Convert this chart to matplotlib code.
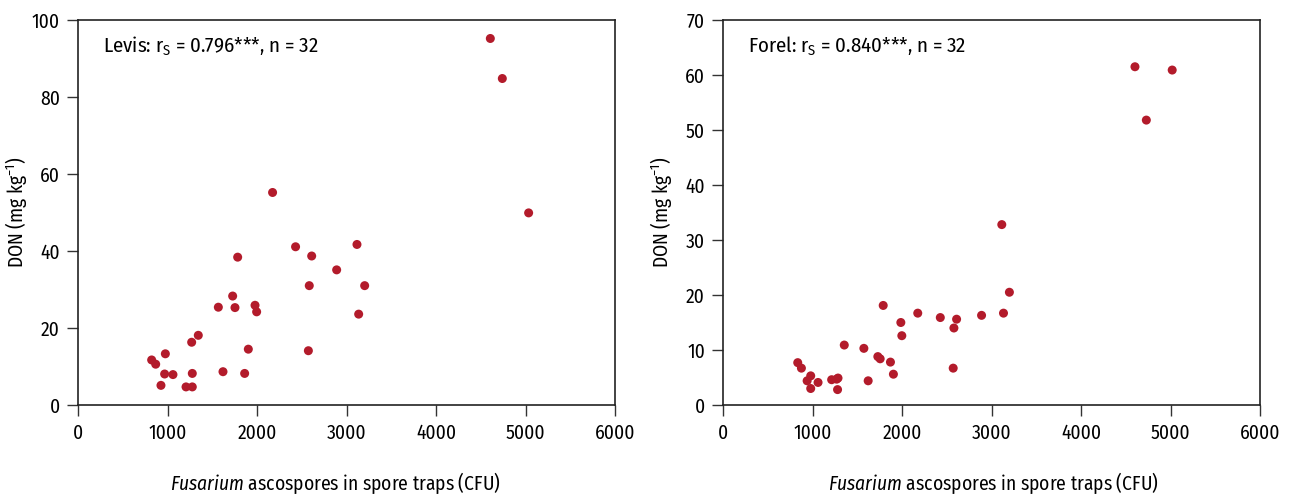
import matplotlib
matplotlib.use("Agg")
import matplotlib.pyplot as plt
from matplotlib import font_manager

names = {f.name for f in font_manager.fontManager.ttflist}
fam = "DejaVu Sans"
for cand in ["Fira Sans Condensed", "Open Sans Condensed", "IBM Plex Sans Condensed",
             "Barlow Semi Condensed", "Archivo Narrow"]:
    if cand in names:
        fam = cand
        break
plt.rcParams['font.family'] = [fam, 'DejaVu Sans']
plt.rcParams['mathtext.fontset'] = 'custom'
plt.rcParams['mathtext.rm'] = fam
plt.rcParams['mathtext.it'] = fam + ':italic'

# Levis data
x_levis = [823, 868, 927, 968, 976, 1061, 1207, 1270, 1277, 1277, 1344, 1568, 1620, 1728,
           1754, 1784, 1862, 1903, 1978, 1996, 2174, 2431, 2574, 2584, 2611, 2890, 3117,
           3136, 3203, 4607, 4741, 5035]
don_levis = [11.7, 10.6, 5.1, 8.05, 13.3, 7.9, 4.7, 16.3, 8.2, 4.7, 18.1, 25.4, 8.65, 28.3,
             25.3, 38.4, 8.2, 14.5, 25.9, 24.2, 55.2, 41.1, 14.1, 31.0, 38.7, 35.1, 41.7,
             23.6, 31.0, 95.2, 84.8, 49.9]

# Forel data
x_forel = [835, 876, 940, 980, 980, 1062, 1214, 1270, 1280, 1285, 1355, 1574, 1622, 1730,
           1756, 1790, 1871, 1904, 1987, 1998, 2176, 2428, 2572, 2580, 2610, 2889, 3115,
           3134, 3200, 4603, 4730, 5019]
don_forel = [7.7, 6.7, 4.4, 5.3, 3.0, 4.1, 4.6, 4.7, 2.8, 4.9, 10.9, 10.3, 4.4, 8.8,
             8.4, 18.1, 7.8, 5.6, 15.0, 12.6, 16.7, 15.9, 6.7, 14.0, 15.6, 16.3, 32.8,
             16.7, 20.5, 61.5, 51.8, 60.9]

x_ticks = [0, 1000, 2000, 3000, 4000, 5000, 6000]
levis_yticks = [0, 20, 40, 60, 80, 100]
forel_yticks = [0, 10, 20, 30, 40, 50, 60, 70]

labels = [r"Levis: r$_\mathregular{S}$ = 0.796***, n = 32",
          r"Forel: r$_\mathregular{S}$ = 0.840***, n = 32"]
xlabel = r"$\mathit{Fusarium}$ ascospores in spore traps (CFU)"
ylabel = r"DON (mg kg$^{\mathregular{-1}}$)"

fs = 14
color = "#B31B2B"
W, H = 1294, 494
fig = plt.figure(figsize=(W / 100, H / 100), dpi=100)

panels = [
    (78, x_levis, don_levis, levis_yticks, labels[0], 335),
    (723, x_forel, don_forel, forel_yticks, labels[1], 993),
]
for left, xs, ys, yt, lab, xlab_c in panels:
    ax = fig.add_axes([left / W, 89 / H, 537 / W, 385 / H])
    ax.scatter(xs, ys, s=42, color=color, edgecolors='none', zorder=3)
    ax.set_xlim(0, 6000)
    ax.set_ylim(yt[0], yt[-1])
    ax.set_xticks(x_ticks)
    ax.set_yticks(yt)
    ax.tick_params(direction='out', length=8, width=1, labelsize=fs, color='#333333', pad=5)
    for s in ax.spines.values():
        s.set_linewidth(1.2)
        s.set_color('#222222')
    ax.set_xlabel(xlabel, fontsize=fs, va='center')
    ax.xaxis.set_label_coords((xlab_c - left) / 537, (405 - 483) / 385)
    ax.set_ylabel(ylabel, fontsize=fs, va='center')
    ax.yaxis.set_label_coords((16 - 78) / 537, 0.5)
    ax.text(0.047, 0.932, lab, transform=ax.transAxes, fontsize=15, va='center', ha='left')

fig.savefig("out.png", dpi=100)
